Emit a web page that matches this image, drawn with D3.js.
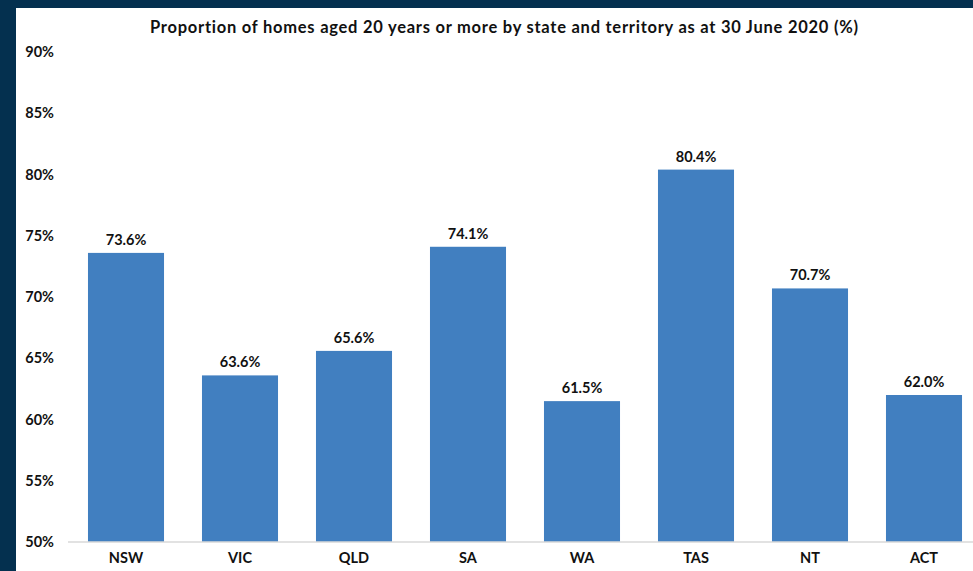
<!DOCTYPE html>
<html>
<head>
<meta charset="utf-8">
<script src="https://cdn.jsdelivr.net/npm/d3@7"></script>
<style>
  body { margin: 0; background: #ffffff; }
  svg { display: block; font-family: "Lato", "Noto Sans", sans-serif; font-variant-ligatures: none; }
</style>
</head>
<body>
<svg id="chart" width="973" height="571"></svg>
<script>
var states = ["NSW", "VIC", "QLD", "SA", "WA", "TAS", "NT", "ACT"];
var shares = [73.6, 63.6, 65.6, 74.1, 61.5, 80.4, 70.7, 62.0];
var yTicks = [50, 55, 60, 65, 70, 75, 80, 85, 90];
var title = "Proportion of homes aged 20 years or more by state and territory as at 30 June 2020 (%)";

var svg = d3.select("#chart"),
    width = 973,
    height = 571;

// dark frame top and left
svg.append("rect").attr("x", 0).attr("y", 0).attr("width", width).attr("height", height).attr("fill", "#04304f");
svg.append("rect").attr("x", 16).attr("y", 8).attr("width", width - 16).attr("height", height - 8).attr("fill", "#ffffff");

var x = d3.scaleBand()
    .domain(states)
    .range([69, 981])
    .paddingInner(0.333)
    .paddingOuter(0.1665);

var y = d3.scaleLinear()
    .domain([50, 90])
    .range([542, 52]);

svg.append("text")
    .attr("x", 504)
    .attr("y", 33)
    .attr("text-anchor", "middle")
    .attr("font-size", 16.5)
    .attr("font-weight", "bold")
    .attr("fill", "#111")
    .attr("textLength", 708)
    .attr("lengthAdjust", "spacing")
    .style("font-variant-ligatures", "none")
    .text(title);

// y axis labels
var yAxis = svg.append("g")
    .attr("transform", "translate(64,0)")
    .call(d3.axisLeft(y).tickValues(yTicks).tickFormat(function(d) { return d + "%"; }).tickSize(0).tickPadding(10));
yAxis.select(".domain").remove();
yAxis.selectAll("text")
    .attr("font-size", 14.5)
    .attr("font-weight", "bold")
    .attr("fill", "#111")
    .attr("font-family", "Lato, sans-serif");

// bars
svg.selectAll(".bar")
    .data(shares)
    .enter()
    .append("rect")
    .attr("class", "bar")
    .attr("x", function(d, i) { return x(states[i]); })
    .attr("y", function(d) { return y(d); })
    .attr("width", x.bandwidth())
    .attr("height", function(d) { return y(50) - y(d); })
    .attr("fill", "#417fc0");

// value labels
svg.selectAll(".val")
    .data(shares)
    .enter()
    .append("text")
    .attr("class", "val")
    .attr("x", function(d, i) { return x(states[i]) + x.bandwidth() / 2; })
    .attr("y", function(d) { return y(d) - 8; })
    .attr("text-anchor", "middle")
    .attr("font-size", 14.5)
    .attr("font-weight", "bold")
    .attr("fill", "#111")
    .text(function(d) { return d.toFixed(1) + "%"; });

// x axis
var xAxis = svg.append("g")
    .attr("transform", "translate(0,542)")
    .call(d3.axisBottom(x).tickSize(0).tickPadding(11));
xAxis.select(".domain").attr("stroke", "#d9d9d9").attr("stroke-width", 1.5).attr("d", "M68,0H973");
xAxis.selectAll("text")
    .attr("font-size", 14.5)
    .attr("font-weight", "bold")
    .attr("fill", "#111")
    .attr("font-family", "Lato, sans-serif");
</script>
</body>
</html>
